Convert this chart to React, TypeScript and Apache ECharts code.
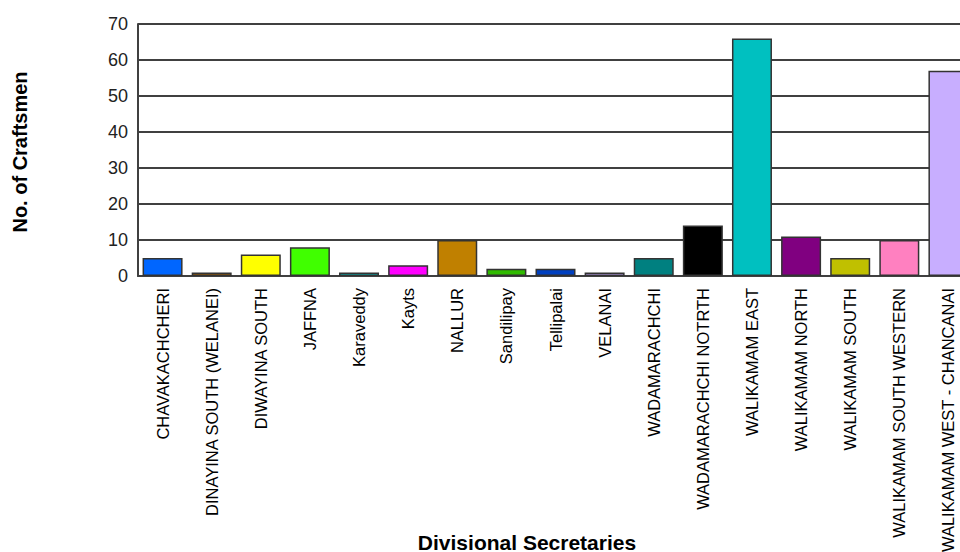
import React, { useEffect, useRef } from "react";
import * as echarts from "echarts";

const categories = [
  "CHAVAKACHCHERI",
  "DINAYINA SOUTH (WELANEI)",
  "DIWAYINA SOUTH",
  "JAFFNA",
  "Karaveddy",
  "Kayts",
  "NALLUR",
  "Sandilipay",
  "Tellipalai",
  "VELANAI",
  "WADAMARACHCHI",
  "WADAMARACHCHI NOTRTH",
  "WALIKAMAM EAST",
  "WALIKAMAM NORTH",
  "WALIKAMAM SOUTH",
  "WALIKAMAM SOUTH WESTERN",
  "WALIKAMAM WEST - CHANCANAI",
];

const craftsmen = [5, 1, 6, 8, 1, 3, 10, 2, 2, 1, 5, 14, 66, 11, 5, 10, 57];

const barColors = [
  "#0066FF",
  "#A86000",
  "#FFFF00",
  "#40FF00",
  "#00B8B8",
  "#FF00FF",
  "#C08000",
  "#30BB00",
  "#0040C0",
  "#C8AAFF",
  "#008080",
  "#000000",
  "#00C0C0",
  "#800080",
  "#C0C000",
  "#FF80C0",
  "#C8AEFF",
];

const yTitle = "No. of Craftsmen";
const xTitle = "Divisional Secretaries";

export default function App() {
  const ref = useRef<HTMLDivElement>(null);

  useEffect(() => {
    if (!ref.current) return;
    const chart = echarts.init(ref.current, null, { renderer: "svg" });
    chart.setOption({
      animation: false,
      backgroundColor: "#ffffff",
      grid: {
        left: 138,
        top: 24,
        right: 0,
        bottom: 276,
        containLabel: false,
        outerBoundsMode: "none",
      },
      xAxis: {
        type: "category",
        data: categories,
        axisLine: { show: true, lineStyle: { color: "#404040", width: 2 } },
        axisTick: { show: false },
        axisLabel: {
          rotate: 90,
          interval: 0,
          margin: 12,
          color: "#000000",
          fontFamily: "Liberation Sans",
          fontSize: 16.5,
        },
      },
      yAxis: {
        type: "value",
        min: 0,
        max: 70,
        interval: 10,
        axisLine: { show: true, lineStyle: { color: "#404040", width: 2 } },
        axisTick: { show: false },
        splitLine: { show: true, lineStyle: { color: "#000000", width: 1.5 } },
        axisLabel: {
          margin: 10,
          color: "#222222",
          fontFamily: "Liberation Sans",
          fontSize: 18,
        },
      },
      series: [
        {
          type: "bar",
          data: craftsmen.map((v, i) => ({
            value: v,
            itemStyle: { color: barColors[i] },
          })),
          barWidth: 40,
          itemStyle: { borderColor: "#333333", borderWidth: 1.5 },
        },
      ],
      graphic: [
        {
          type: "text",
          x: 20,
          y: 152,
          rotation: Math.PI / 2,
          style: {
            text: yTitle,
            font: "bold 20px 'Liberation Sans'",
            fill: "#000000",
            align: "center",
            verticalAlign: "middle",
          },
        },
        {
          type: "text",
          x: 527,
          y: 542,
          style: {
            text: xTitle,
            font: "bold 21px 'Liberation Sans'",
            fill: "#000000",
            align: "center",
            verticalAlign: "middle",
          },
        },
      ],
    });
    return () => chart.dispose();
  }, []);

  return (
    <div
      style={{
        position: "fixed",
        left: 0,
        top: 0,
        width: 960,
        height: 552,
        overflow: "hidden",
        background: "#ffffff",
      }}
    >
      <div ref={ref} style={{ width: 973, height: 552 }} />
    </div>
  );
}
